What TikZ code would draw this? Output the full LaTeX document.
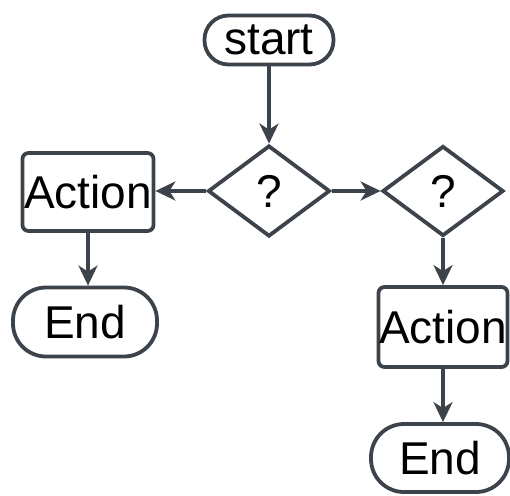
\documentclass[tikz,border=0pt]{standalone}
\usepackage{fontspec}
\setmainfont{Liberation Sans}
\usetikzlibrary{shapes.geometric,arrows.meta}
\definecolor{lc}{HTML}{3D434B}
\tikzset{
  base/.style={draw=lc, line width=3.8pt, inner sep=0pt, text=black, font=\fontsize{46}{50}\selectfont},
  pill/.style={base, rectangle, rounded corners=#1},
  actbox/.style={base, rectangle, rounded corners=6pt},
  dec/.style={base, diamond, aspect=1.33},
  conn/.style={draw=lc, line width=3.8pt, -{Stealth[length=20pt,width=19pt,inset=6pt]}}
}
\begin{document}
\begin{tikzpicture}[x=1pt,y=-1pt]
\useasboundingbox (0,0) rectangle (510,495);
\node[pill=24pt, minimum width=129pt, minimum height=49pt] (start) at (269,40) {start};
\node[dec, minimum width=122pt, minimum height=91pt] (d1) at (269,191) {?};
\node[actbox, minimum width=131pt, minimum height=78pt] (a1) at (88,192) {Action};
\node[dec, minimum width=121pt, minimum height=90pt] (d2) at (443,191) {?};
\node[pill=33pt, minimum width=144pt, minimum height=69pt] (e1) at (85,322) {End};
\node[actbox, minimum width=129pt, minimum height=80pt] (a2) at (443,327) {Action};
\node[pill=33pt, minimum width=138pt, minimum height=68pt] (e2) at (440,458) {End};
\draw[conn] (start) -- (d1);
\draw[conn] (d1.west) -- (a1.east |- d1.west);
\draw[conn] (d1.east) -- (d2.west);
\draw[conn] (a1.south) -- (a1.south |- e1.north);
\draw[conn] (d2.south) -- (d2.south |- a2.north);
\draw[conn] (a2.south) -- (a2.south |- e2.north);
\end{tikzpicture}
\end{document}
